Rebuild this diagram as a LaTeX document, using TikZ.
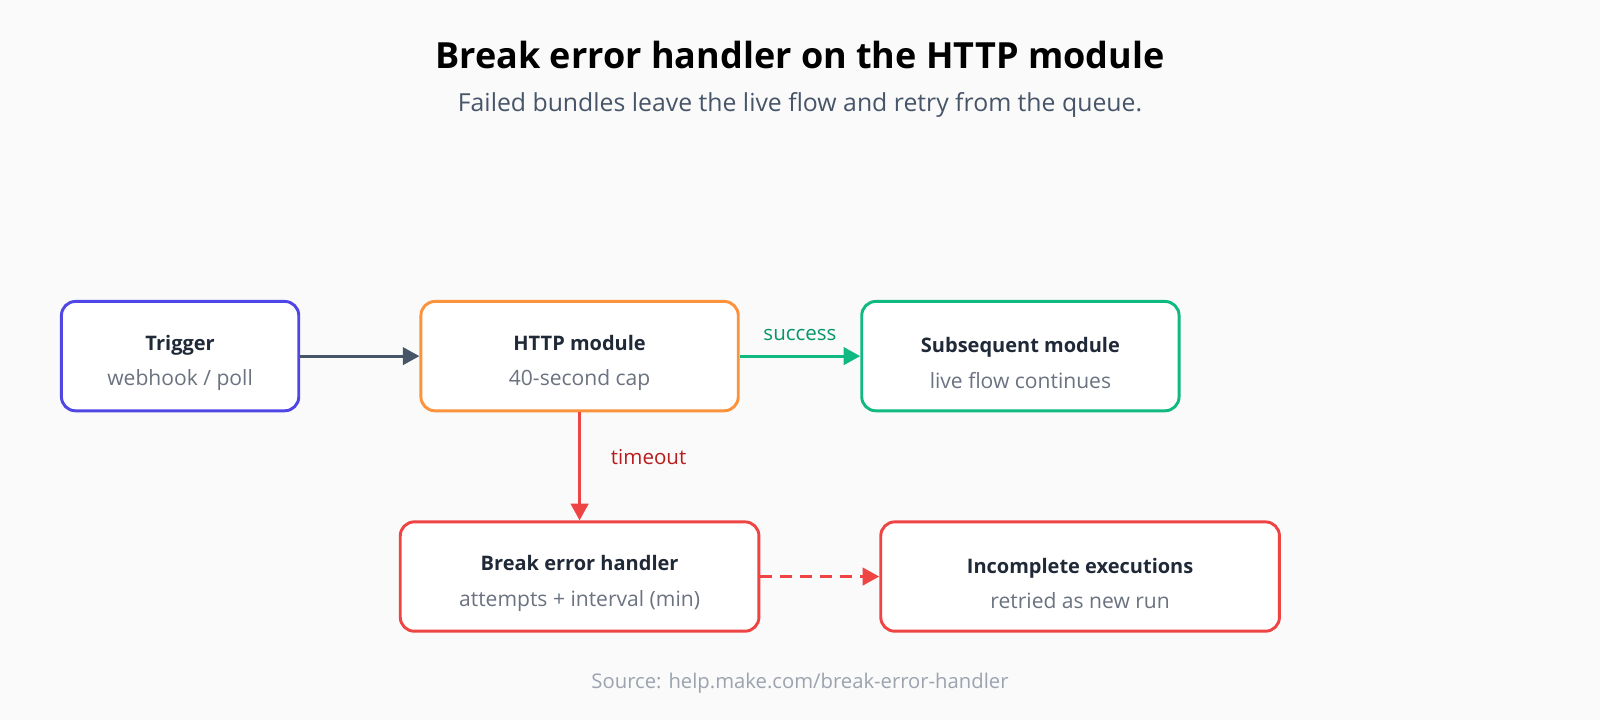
\documentclass[tikz,border=0pt]{standalone}
\usepackage{fontspec}
\setmainfont{Open Sans}
\usetikzlibrary{arrows.meta,positioning}
\definecolor{bgpaper}{HTML}{FAFAFA}
\definecolor{inktext}{HTML}{1F2937}
\definecolor{subgray}{HTML}{6B7280}
\definecolor{srcgray}{HTML}{9CA3AF}
\definecolor{trigblue}{HTML}{4F46E5}
\definecolor{httporange}{HTML}{FB923C}
\definecolor{okgreen}{HTML}{10B981}
\definecolor{okgreendark}{HTML}{059669}
\definecolor{errred}{HTML}{EF4444}
\definecolor{errreddark}{HTML}{B91C1C}
\definecolor{arrowgray}{HTML}{475569}

\begin{document}
\begin{tikzpicture}[x=0.7653pt, y=-0.7653pt,
  stage/.style={draw, rounded corners=10.5pt, line width=2.2pt, fill=white, text=inktext,
    minimum height=82pt, align=center, inner sep=0pt, font=\fontsize{15}{26.5}\selectfont},
  flow/.style={->, line width=2.4pt, >={Triangle[length=12.5pt, width=13pt]}},
  tag/.style={font=\fontsize{15.4}{18}\selectfont}]
\fill[bgpaper] (0,0) rectangle (1568,705.6);
\useasboundingbox (0,0) rectangle (1568,705.6);

\node[font=\fontsize{27}{32}\selectfont\bfseries, text=black] (title) at (784,54) {Break error handler on the HTTP module};
\node[font=\fontsize{18.6}{22}\selectfont, text=arrowgray] (subtitle) at (784,103) {Failed bundles leave the live flow and retry from the queue.};

\node[stage, draw=trigblue, minimum width=178pt] (T) at (176.5,349)
  {\rule{0pt}{21.5pt}{\bfseries Trigger}\\{\fontsize{15.8}{26.5}\selectfont\color{subgray}webhook / poll}};
\node[stage, draw=httporange, minimum width=238pt] (H) at (568,349)
  {\rule{0pt}{21.5pt}{\bfseries HTTP module}\\{\fontsize{15.8}{26.5}\selectfont\color{subgray}40-second cap}};
\node[stage, draw=okgreen, minimum width=238pt] (S) at (1000,349)
  {\rule{0pt}{21.5pt}{\bfseries Subsequent module}\\{\fontsize{15.8}{26.5}\selectfont\color{subgray}live flow continues}};
\node[stage, draw=errred, minimum width=269pt] (B) at (568,565)
  {\rule{0pt}{21.5pt}{\bfseries Break error handler}\\{\fontsize{15.8}{26.5}\selectfont\color{subgray}attempts + interval (min)}};
\node[stage, draw=errred, minimum width=299pt] (I) at (1058.5,565)
  {\rule{0pt}{21.5pt}{\bfseries Incomplete executions}\\{\fontsize{15.8}{26.5}\selectfont\color{subgray}retried as new run}};
%==========

\draw[flow, arrowgray] (T) -- (H);
\draw[flow, okgreen] (H) -- node[tag, above=7pt, text=okgreendark] {success} (S);
\draw[flow, errred] (H) -- node[tag, right=19pt, pos=0.41, text=errreddark] {timeout} (B);
\draw[flow, errred, dash pattern=on 9pt off 6pt] (B) -- (I);

\node[font=\fontsize{15.2}{18}\selectfont, text=srcgray] (source) at (784,670) {Source: help.make.com/break-error-handler};
\end{tikzpicture}
\end{document}
